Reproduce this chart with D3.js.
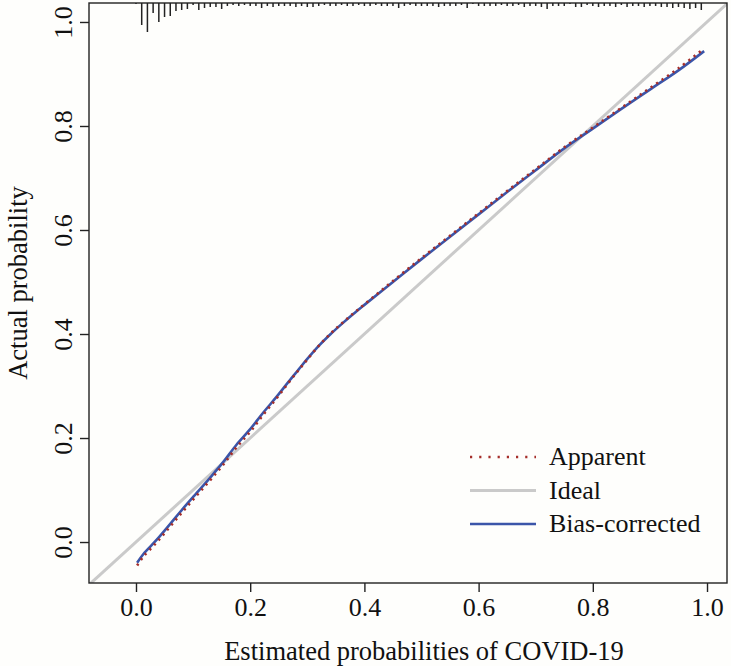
<!DOCTYPE html>
<html>
<head>
<meta charset="utf-8">
<script src="https://cdn.jsdelivr.net/npm/d3@7"></script>
<style>
  body { margin: 0; background: #fefefc; }
  text { font-family: "Liberation Serif", "Times New Roman", serif; fill: #111; }
</style>
</head>
<body>
<svg width="731" height="666"></svg>
<script>
// calibration curves (x = estimated, y = actual)
const calX = [0.002, 0.013, 0.036, 0.06, 0.083, 0.106, 0.13, 0.153, 0.176, 0.2, 0.223, 0.246, 0.267, 0.285, 0.3, 0.32, 0.34, 0.36, 0.38, 0.4, 0.45, 0.5, 0.55, 0.6, 0.65, 0.7, 0.75, 0.8, 0.85, 0.9, 0.95, 0.995]
const apparentY = [-0.045, -0.028, -0.001, 0.03, 0.06, 0.089, 0.119, 0.149, 0.182, 0.212, 0.245, 0.276, 0.306, 0.331, 0.351, 0.377, 0.4, 0.42, 0.439, 0.457, 0.502, 0.546, 0.589, 0.632, 0.675, 0.717, 0.759, 0.797, 0.835, 0.873, 0.911, 0.949]
const biasY = [-0.04, -0.023, 0.004, 0.035, 0.065, 0.094, 0.124, 0.154, 0.187, 0.217, 0.249, 0.279, 0.308, 0.332, 0.352, 0.377, 0.399, 0.419, 0.438, 0.456, 0.5, 0.544, 0.587, 0.63, 0.673, 0.715, 0.757, 0.795, 0.833, 0.87, 0.907, 0.944]

// spike histogram of predicted probabilities along the top
const spikeX = [0, 0.01, 0.02, 0.03, 0.04, 0.05, 0.06, 0.07, 0.08, 0.09,
  0.1, 0.11, 0.12, 0.13, 0.14, 0.15, 0.16, 0.17, 0.18, 0.19,
  0.2, 0.21, 0.22, 0.23, 0.24, 0.25, 0.26, 0.27, 0.28, 0.29,
  0.3, 0.31, 0.32, 0.33, 0.34, 0.35, 0.36, 0.37, 0.38, 0.39,
  0.4, 0.41, 0.42, 0.43, 0.44, 0.45, 0.46, 0.47, 0.48, 0.49,
  0.5, 0.51, 0.52, 0.53, 0.54, 0.55, 0.56, 0.57, 0.58, 0.59,
  0.6, 0.61, 0.62, 0.63, 0.64, 0.65, 0.66, 0.67, 0.68, 0.69,
  0.7, 0.71, 0.72, 0.73, 0.74, 0.75, 0.76, 0.77, 0.78, 0.79,
  0.8, 0.81, 0.82, 0.83, 0.84, 0.85, 0.86, 0.87, 0.88, 0.89,
  0.9, 0.91, 0.92, 0.93, 0.94, 0.95, 0.96, 0.97, 0.98, 0.99]
const spikeN = [1, 22, 29, 10, 19, 14, 13, 8, 7, 6,
  2, 7, 5, 4, 4, 6, 3, 2, 3, 2,
  3, 3, 5, 3, 4, 3, 3, 3, 4, 3,
  4, 4, 3, 2, 3, 3, 2, 3, 3, 2,
  3, 3, 2, 3, 3, 3, 5, 3, 2, 3,
  3, 3, 3, 4, 3, 3, 3, 2, 5, 1,
  3, 3, 3, 3, 2, 3, 3, 2, 4, 3,
  3, 4, 6, 3, 3, 3, 1, 4, 4, 2,
  3, 4, 3, 3, 4, 2, 4, 3, 3, 4,
  3, 3, 4, 4, 5, 4, 5, 6, 5, 7]

const xTicks = [0, 0.2, 0.4, 0.6, 0.8, 1.0]
const yTicks = [0, 0.2, 0.4, 0.6, 0.8, 1.0]
const legendLabels = ['Apparent', 'Ideal', 'Bias-corrected']

const svg = d3.select('svg')
const margin = {top: 3, right: 4, bottom: 83, left: 89}
const width = +svg.attr('width') - margin.left - margin.right
const height = +svg.attr('height') - margin.top - margin.bottom
const g = svg.append('g').attr('transform', `translate(${margin.left},${margin.top})`)

const x = d3.scaleLinear().domain([-0.0823, 1.035]).range([0, width])
const y = d3.scaleLinear().domain([-0.0788, 1.0365]).range([height, 0])
const spikeLen = d3.scaleLinear().domain([0, 29]).range([0, 29])

svg.append('defs').append('clipPath').attr('id', 'clip')
  .append('rect').attr('width', width).attr('height', height)

const plot = g.append('g').attr('clip-path', 'url(#clip)')

// ideal line
plot.append('line')
  .attr('x1', x(-0.2)).attr('y1', y(-0.2))
  .attr('x2', x(1.2)).attr('y2', y(1.2))
  .attr('stroke', '#cacaca').attr('stroke-width', 3)

// spikes
plot.selectAll('.spike')
  .data(spikeX)
  .enter().append('line')
  .attr('class', 'spike')
  .attr('x1', (d) => x(d)).attr('x2', (d) => x(d))
  .attr('y1', 0)
  .attr('y2', (d, i) => spikeLen(spikeN[i]))
  .attr('stroke', '#222').attr('stroke-width', 1.5)

const line = d3.line()
  .x((d) => x(d[0]))
  .y((d) => y(d[1]))
  .curve(d3.curveCatmullRom.alpha(0.5))

plot.append('path')
  .datum(calX.map((v, i) => [v, biasY[i]]))
  .attr('d', line)
  .attr('fill', 'none')
  .attr('stroke', '#3b55a9').attr('stroke-width', 2.6)

plot.append('path')
  .datum(calX.map((v, i) => [v, apparentY[i]]))
  .attr('d', line)
  .attr('fill', 'none')
  .attr('stroke', '#a52e2a').attr('stroke-width', 2.6)
  .attr('stroke-dasharray', '2.2,4.4')

// axes
const xAxis = g.append('g')
  .attr('transform', `translate(0,${height})`)
  .call(d3.axisBottom(x).tickValues(xTicks).tickSize(9).tickPadding(6).tickFormat(d3.format('.1f')))
xAxis.select('.domain').remove()
xAxis.selectAll('line').attr('stroke', '#222').attr('stroke-width', 1.4)
xAxis.selectAll('text').style('font-size', '26px').style('font-family', '"Liberation Serif", serif').attr('fill', '#111')

const yAxis = g.append('g')
  .call(d3.axisLeft(y).tickValues(yTicks).tickSize(9).tickFormat(d3.format('.1f')))
yAxis.select('.domain').remove()
yAxis.selectAll('line').attr('stroke', '#222').attr('stroke-width', 1.4)
yAxis.selectAll('text')
  .attr('x', null).attr('dy', null)
  .attr('transform', 'translate(-17,0) rotate(-90)')
  .attr('text-anchor', 'middle')
  .style('font-size', '26px').style('font-family', '"Liberation Serif", serif').attr('fill', '#111')

// box
g.append('rect')
  .attr('width', width).attr('height', height)
  .attr('fill', 'none').attr('stroke', '#222').attr('stroke-width', 1.4)

// axis titles
svg.append('text')
  .attr('x', 424).attr('y', 660)
  .attr('text-anchor', 'middle')
  .style('font-size', '26.5px')
  .text('Estimated probabilities of COVID-19')

svg.append('text')
  .attr('transform', 'translate(27,283) rotate(-90)')
  .attr('text-anchor', 'middle')
  .style('font-size', '26.5px')
  .text('Actual probability')

// legend
const legend = g.append('g').attr('transform', `translate(${470 - margin.left},${457 - margin.top})`)
const items = legend.selectAll('g')
  .data(legendLabels)
  .enter().append('g')
  .attr('transform', (d, i) => `translate(0,${i * 33.5})`)
items.append('line')
  .attr('x1', 0).attr('x2', 66)
  .attr('stroke', (d, i) => ['#a52e2a', '#cacaca', '#3b55a9'][i])
  .attr('stroke-width', (d, i) => [2.6, 3, 2.6][i])
  .attr('stroke-dasharray', (d, i) => i === 0 ? '2.2,7' : null)
items.append('text')
  .attr('x', 79).attr('dy', '0.32em')
  .style('font-size', '26px')
  .text((d) => d)
</script>
</body>
</html>
